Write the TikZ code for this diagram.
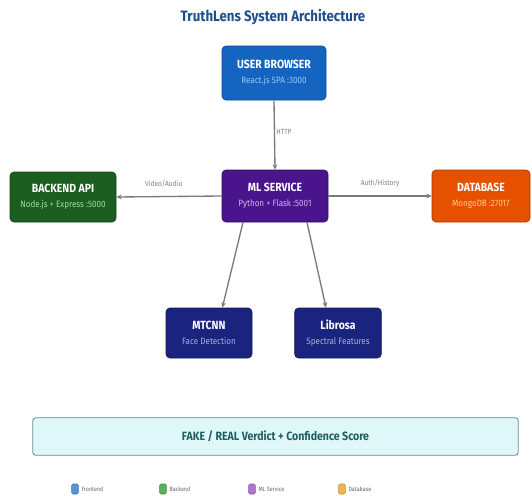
\documentclass[tikz,border=0pt]{standalone}
\usepackage{fontspec}
\setmainfont{Fira Sans}
\newfontfamily\condf[FakeStretch=0.88]{Fira Sans}
\usetikzlibrary{arrows.meta,positioning}
\definecolor{cblue}{HTML}{1565C0}
\definecolor{cgreen}{HTML}{1B5E20}
\definecolor{cpurple}{HTML}{4A148C}
\definecolor{corange}{HTML}{E65100}
\definecolor{cnavy}{HTML}{1A237E}
\definecolor{ctitle}{HTML}{1F4E89}
\definecolor{cline}{HTML}{7A7A7A}
\definecolor{cverdfill}{HTML}{E0F7FA}
\definecolor{cverdline}{HTML}{5F8F8F}
\definecolor{cverdtext}{HTML}{1E5F5F}
\definecolor{sblue}{HTML}{90CAF9}
\definecolor{sgreen}{HTML}{A5D6A7}
\definecolor{spurple}{HTML}{D1B3F0}
\definecolor{sorange}{HTML}{FFCC80}
\definecolor{snavy}{HTML}{A8B0E0}
\definecolor{lblue}{HTML}{5B8FD9}
\definecolor{lgreen}{HTML}{5DAE5D}
\definecolor{lpurple}{HTML}{B074CC}
\definecolor{lorange}{HTML}{E8B84A}
\tikzset{
  box/.style={rounded corners=3pt, draw=#1!70!black, line width=0.5pt, fill=#1, text=white, align=center, inner sep=2pt},
  conn/.style={draw=cline, line width=1pt, -{Stealth[length=4pt,width=3.5pt]}},
  clabel/.style={font=\condf\fontsize{5.6}{6}\selectfont, text=gray},
  legsq/.style={rounded corners=1pt, minimum width=5pt, minimum height=7.5pt, inner sep=0pt, draw=#1!80!black, fill=#1},
  leglab/.style={font=\condf\fontsize{4.6}{5}\selectfont, text=gray!80!black, anchor=west, inner sep=1pt},
}
\newcommand\boxtext[3]{{\condf\bfseries\fontsize{8.9}{9}\selectfont #1}\\[-1pt]{\condf\fontsize{6.9}{7}\selectfont\color{#3}#2}}
\begin{document}
\begin{tikzpicture}[x=0.75pt,y=-0.75pt]
\useasboundingbox (0,0) rectangle (532,496);
\node[font=\condf\bfseries\fontsize{11.3}{13}\selectfont, text=ctitle] (title) at (273,17) {TruthLens System Architecture};

\node[box=cblue, minimum width=78pt, minimum height=40.5pt] (browser) at (274,73) {\boxtext{USER BROWSER}{React.js SPA :3000}{sblue}};
\node[box=cpurple, minimum width=79.5pt, minimum height=39pt] (ml) at (275,196) {\boxtext{ML SERVICE}{Python + Flask :5001}{spurple}};
\node[box=cgreen, minimum width=79.5pt, minimum height=37.5pt] (backend) at (63,197) {\boxtext{BACKEND API}{Node.js + Express :5000}{sgreen}};
\node[box=corange, minimum width=73.5pt, minimum height=39pt] (db) at (481,196) {\boxtext{DATABASE}{MongoDB :27017}{sorange}};
\node[box=cnavy, minimum width=64.5pt, minimum height=37.5pt] (mtcnn) at (209,333) {\boxtext{MTCNN}{Face Detection}{snavy}};
\node[box=cnavy, minimum width=65pt, minimum height=37.5pt] (librosa) at (338,333) {\boxtext{Librosa}{Spectral Features}{snavy}};

\node[rounded corners=2pt, draw=cverdline, line width=0.6pt, fill=cverdfill, minimum width=364pt, minimum height=28pt, text=cverdtext, font=\condf\bfseries\fontsize{9}{10}\selectfont] (verdict) at (275.5,436.5) {FAKE / REAL Verdict + Confidence Score};

\draw[conn] (browser.south) -- node[clabel, right, pos=0.45, inner sep=1pt] (lhttp) {HTTP} (ml.north);
\draw[conn] (ml.west) -- node[clabel, above=3pt, pos=0.55] (lva) {Video/Audio} (backend.east);
\draw[conn] (ml.east) -- node[clabel, above=3pt, pos=0.5] (lah) {Auth/History} (db.west);
\draw[conn] ([xshift=-24pt]ml.south) -- ([xshift=10pt]mtcnn.north);
\draw[conn] ([xshift=24pt]ml.south) -- ([xshift=-9pt]librosa.north);

\node[legsq=lblue] (sq1) at (75,489) {};
\node[leglab, right=1pt of sq1] (lg1) {Frontend};
\node[legsq=lgreen] (sq2) at (163,489) {};
\node[leglab, right=1pt of sq2] (lg2) {Backend};
\node[legsq=lpurple] (sq3) at (252,489) {};
\node[leglab, right=1pt of sq3] (lg3) {ML Service};
\node[legsq=lorange] (sq4) at (342,489) {};
\node[leglab, right=1pt of sq4] (lg4) {Database};
\end{tikzpicture}
\end{document}
